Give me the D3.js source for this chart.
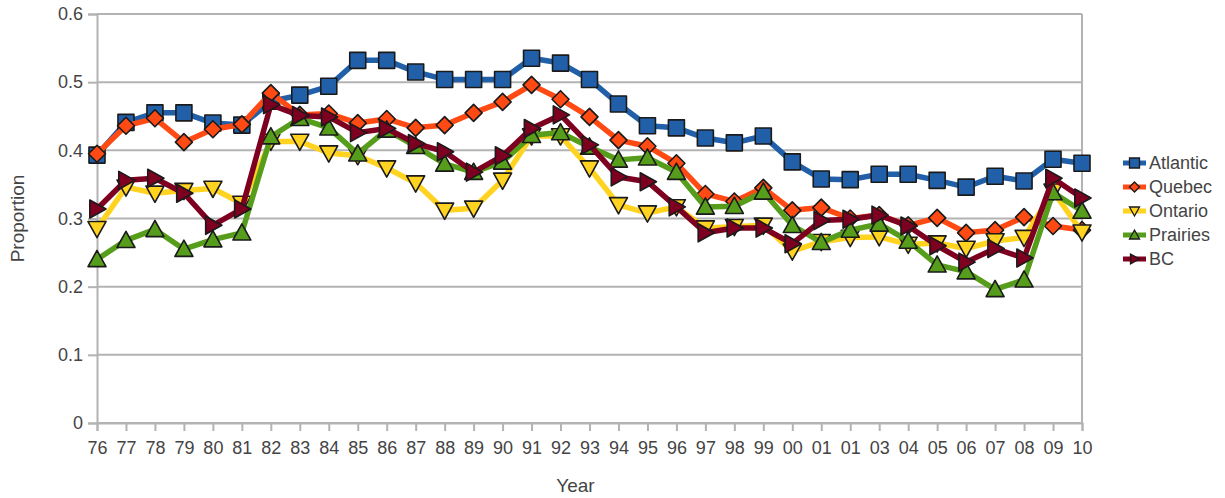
<!DOCTYPE html>
<html>
<head>
<meta charset="utf-8">
<script src="https://cdn.jsdelivr.net/npm/d3@7"></script>
<style>
  html, body { margin: 0; padding: 0; background: #ffffff; }
  svg { display: block; font-family: "Liberation Sans", Arial, sans-serif; }
</style>
</head>
<body>
<svg id="chart" width="1225" height="498"></svg>
<script>
// Year labels along the x axis (two-digit years, as printed)
const years = ["76","77","78","79","80","81","82","83","84","85","86","87","88","89","90",
  "91","92","93","94","95","96","97","98","99","00","01","01","03","04","05","06","07","08","09","10"];

// Proportion by region and year
const atlantic = [0.393,0.441,0.455,0.455,0.440,0.437,0.472,0.481,0.494,0.532,0.532,0.515,0.504,0.504,0.504,
  0.535,0.528,0.504,0.468,0.436,0.433,0.418,0.411,0.421,0.383,0.358,0.357,0.365,0.365,0.356,0.346,0.362,0.355,0.387,0.381];
const quebec = [0.395,0.436,0.447,0.412,0.431,0.438,0.484,0.452,0.454,0.440,0.446,0.433,0.437,0.455,0.471,
  0.496,0.475,0.449,0.415,0.406,0.381,0.336,0.325,0.345,0.312,0.316,0.300,0.305,0.290,0.301,0.279,0.283,0.302,0.289,0.283];
const ontario = [0.285,0.346,0.337,0.341,0.344,0.322,0.413,0.413,0.396,0.392,0.374,0.352,0.312,0.315,0.356,
  0.421,0.421,0.374,0.320,0.308,0.317,0.286,0.288,0.290,0.252,0.266,0.272,0.273,0.262,0.264,0.256,0.267,0.272,0.340,0.280];
const prairies = [0.240,0.268,0.284,0.255,0.269,0.279,0.420,0.447,0.433,0.395,0.430,0.406,0.380,0.368,0.383,
  0.422,0.426,0.405,0.386,0.389,0.368,0.317,0.318,0.339,0.290,0.265,0.283,0.292,0.267,0.232,0.222,0.196,0.210,0.338,0.311];
const bc = [0.314,0.356,0.359,0.337,0.290,0.314,0.467,0.451,0.449,0.426,0.432,0.410,0.398,0.368,0.392,
  0.432,0.452,0.408,0.361,0.354,0.317,0.279,0.286,0.286,0.263,0.297,0.299,0.305,0.289,0.260,0.236,0.256,0.242,0.359,0.330];

const seriesNames = ["Atlantic","Quebec","Ontario","Prairies","BC"];
const seriesValues = [atlantic, quebec, ontario, prairies, bc];
const seriesColors = ["#2160a8","#ff4a14","#ffd320","#579d1c","#7e0021"];
const seriesShapes = ["square","diamond","down","up","right"];

const yTicks = [0, 0.1, 0.2, 0.3, 0.4, 0.5, 0.6];

const svg = d3.select("#chart");
const plot = { left: 97, right: 1082, top: 14, bottom: 423 };

const x = d3.scalePoint()
  .domain(d3.range(years.length))
  .range([plot.left, plot.right]);
const y = d3.scaleLinear()
  .domain([0, 0.6])
  .range([plot.bottom, plot.top]);

const gridColor = "#b3b3b3";
const textColor = "#444444";

// horizontal grid lines
svg.append("g")
  .selectAll("line")
  .data(yTicks)
  .join("line")
  .attr("x1", plot.left).attr("x2", plot.right)
  .attr("y1", d => y(d)).attr("y2", d => y(d))
  .attr("stroke", gridColor).attr("stroke-width", 2);

// right frame edge
svg.append("line")
  .attr("x1", plot.right).attr("x2", plot.right)
  .attr("y1", y(0.6)).attr("y2", y(0))
  .attr("stroke", gridColor).attr("stroke-width", 2);

// y axis
const yAxis = svg.append("g")
  .attr("transform", `translate(${plot.left},0)`)
  .call(d3.axisLeft(y).tickValues(yTicks).tickSize(9).tickPadding(5)
    .tickFormat(d => d === 0 ? "0" : d3.format(".1f")(d)));
yAxis.select(".domain").attr("stroke", gridColor).attr("stroke-width", 2);
yAxis.selectAll(".tick line").attr("stroke", gridColor).attr("stroke-width", 2);
yAxis.selectAll(".tick text").attr("fill", textColor).attr("font-size", 18);

// x axis
const xAxis = svg.append("g")
  .attr("transform", `translate(0,${plot.bottom})`)
  .call(d3.axisBottom(x).tickSize(8).tickPadding(10).tickFormat(i => years[i]));
xAxis.select(".domain").attr("stroke", gridColor).attr("stroke-width", 2);
xAxis.selectAll(".tick line").attr("stroke", gridColor).attr("stroke-width", 2);
xAxis.selectAll(".tick text").attr("fill", textColor).attr("font-size", 18);

// axis titles
svg.append("text")
  .attr("x", (plot.left + plot.right) / 2 - 14).attr("y", 492)
  .attr("text-anchor", "middle").attr("fill", textColor).attr("font-size", 19)
  .text("Year");
svg.append("text")
  .attr("transform", `translate(24,${(plot.top + plot.bottom) / 2}) rotate(-90)`)
  .attr("text-anchor", "middle").attr("fill", textColor).attr("font-size", 19)
  .text("Proportion");

// marker path generator for each shape
function markerPath(shape, s) {
  const h = s / 2;
  switch (shape) {
    case "square": return `M${-h},${-h}H${h}V${h}H${-h}Z`;
    case "diamond": return `M0,${-h}L${h},0L0,${h}L${-h},0Z`;
    case "up": return `M0,${-h}L${h},${h * 0.8}L${-h},${h * 0.8}Z`;
    case "down": return `M0,${h}L${h},${-h * 0.8}L${-h},${-h * 0.8}Z`;
    case "right": return `M${h},0L${-h * 0.8},${h}L${-h * 0.8},${-h}Z`;
  }
}
const markerSize = { square: 16, diamond: 17, up: 18, down: 18, right: 18 };

const line = d3.line().x((d, i) => x(i)).y(d => y(d));

seriesValues.forEach((vals, k) => {
  const g = svg.append("g");
  g.append("path")
    .datum(vals)
    .attr("d", line)
    .attr("fill", "none")
    .attr("stroke", seriesColors[k])
    .attr("stroke-width", 5.5)
    .attr("stroke-linejoin", "round");
  g.selectAll("path.mk")
    .data(vals)
    .join("path")
    .attr("class", "mk")
    .attr("transform", (d, i) => `translate(${x(i)},${y(d)})`)
    .attr("d", markerPath(seriesShapes[k], markerSize[seriesShapes[k]]))
    .attr("fill", seriesColors[k])
    .attr("stroke", "#1a1a1a")
    .attr("stroke-width", 1.6)
    .attr("stroke-linejoin", "round");
});

// legend
const legend = svg.append("g");
seriesNames.forEach((name, k) => {
  const ly = 163 + k * 24;
  legend.append("line")
    .attr("x1", 1123).attr("x2", 1146).attr("y1", ly).attr("y2", ly)
    .attr("stroke", seriesColors[k]).attr("stroke-width", 5);
  legend.append("path")
    .attr("transform", `translate(1134.5,${ly})`)
    .attr("d", markerPath(seriesShapes[k], 10))
    .attr("fill", seriesColors[k])
    .attr("stroke", "#1a1a1a").attr("stroke-width", 1.3);
  legend.append("text")
    .attr("x", 1149).attr("y", ly + 6)
    .attr("fill", textColor).attr("font-size", 18)
    .text(name);
});
</script>
</body>
</html>
